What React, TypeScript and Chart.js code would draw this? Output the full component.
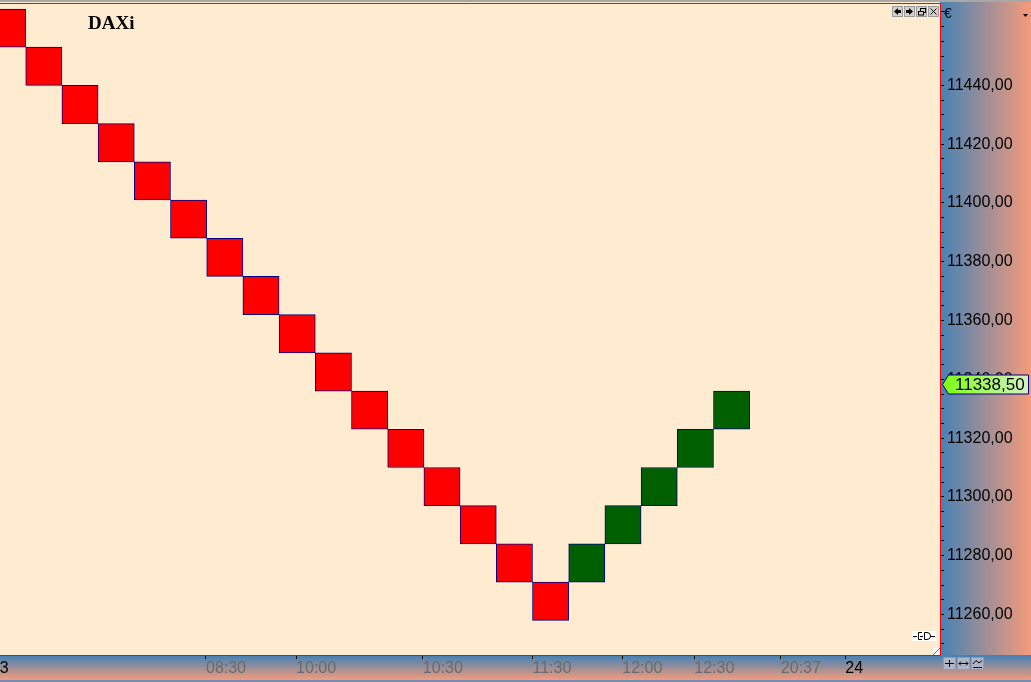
import React, { useEffect, useRef } from 'react';
import Chart from 'chart.js/auto';

// Renko boxes (13 points each)
const boxIndex = [0, 1, 2, 3, 4, 5, 6, 7, 8, 9, 10, 11, 12, 13, 14, 15, 16, 17, 18, 19, 20];
const boxOpen = [
  11466, 11453, 11440, 11427, 11414, 11401, 11388, 11375, 11362, 11349, 11336,
  11323, 11310, 11297, 11284, 11271, 11271, 11284, 11297, 11310, 11323,
];
const boxClose = [
  11453, 11440, 11427, 11414, 11401, 11388, 11375, 11362, 11349, 11336, 11323,
  11310, 11297, 11284, 11271, 11258, 11284, 11297, 11310, 11323, 11336,
];
const lastPrice = 11338.5;

// visible price range and ticks
const priceMin = 11246.2;
const priceMax = 11467.7;
const priceStep = 5;
const priceLabelStep = 20;
const priceLabelTop = 11440;

// visible box range (in box units)
const boxMin = -0.21;
const boxMax = 25.757;

// time labels along the bottom (position in box units)
const timeTickPos = [-0.46, 5.48, 7.97, 11.47, 14.5, 16.98, 18.97, 21.36, 23.14];
const timeTickLabels = ['23', '08:30', '10:00', '10:30', '11:30', '12:00', '12:30', '20:37', '24'];
const dayLabels = ['23', '24'];

const CREAM = '#FFEBD0';
const BLUE = '#4682B4';
const SALMON = '#F59B7B';
const UP = '#006000';
const DOWN = '#FF0000';
const FONT = '"Liberation Sans", Arial, sans-serif';

const fmt = (v: number) => v.toFixed(2).replace('.', ',');

const smallButton = (ctx: CanvasRenderingContext2D, x: number, y: number, w: number, h: number, bg: string) => {
  ctx.fillStyle = bg;
  ctx.fillRect(x, y, w, h);
  ctx.strokeStyle = '#9A9A9A';
  ctx.lineWidth = 1;
  ctx.strokeRect(x + 0.5, y + 0.5, w - 1, h - 1);
};

const decorPlugin = {
  id: 'decor',
  beforeDraw(chart: any) {
    const { ctx, width, height, chartArea: a } = chart;
    ctx.save();
    ctx.fillStyle = CREAM;
    ctx.fillRect(0, 0, a.right, a.bottom);

    // right price axis background
    let g = ctx.createLinearGradient(a.right, 0, width, 0);
    g.addColorStop(0, BLUE);
    g.addColorStop(1, SALMON);
    ctx.fillStyle = g;
    ctx.fillRect(a.right, 0, width - a.right, a.bottom);

    // bottom time axis background
    g = ctx.createLinearGradient(0, a.bottom + 1, 0, height - 2);
    g.addColorStop(0, BLUE);
    g.addColorStop(1, SALMON);
    ctx.fillStyle = g;
    ctx.fillRect(0, a.bottom, width, height - a.bottom);
    ctx.fillStyle = '#6E8FB2';
    ctx.fillRect(0, height - 2, width, 2);

    ctx.fillStyle = '#A8A8A8';
    ctx.fillRect(0, 0, width, 2);
    ctx.restore();
  },
  afterDraw(chart: any) {
    const { ctx, chartArea: a, scales } = chart;
    ctx.save();

    // red frame of the plot area
    ctx.strokeStyle = '#FF0000';
    ctx.lineWidth = 1;
    ctx.beginPath();
    ctx.moveTo(0, a.top - 0.5);
    ctx.lineTo(a.right + 0.5, a.top - 0.5);
    ctx.lineTo(a.right + 0.5, a.bottom + 0.5);
    ctx.lineTo(0, a.bottom + 0.5);
    ctx.stroke();

    // title
    ctx.fillStyle = '#000';
    ctx.font = 'bold 19px "Liberation Serif", "Times New Roman", serif';
    ctx.textBaseline = 'alphabetic';
    ctx.textAlign = 'left';
    ctx.fillText('DAXi', 88, 29);

    // window buttons top right
    const bx = [892, 904, 916, 928];
    bx.forEach((x) => smallButton(ctx, x, 6, 11, 11, '#D4D0C8'));
    ctx.fillStyle = '#000';
    ctx.strokeStyle = '#000';
    // left arrow
    ctx.beginPath();
    ctx.moveTo(894, 11.5); ctx.lineTo(898, 8); ctx.lineTo(898, 15); ctx.closePath(); ctx.fill();
    ctx.fillRect(898, 10, 3, 3);
    // right arrow
    ctx.beginPath();
    ctx.moveTo(913, 11.5); ctx.lineTo(909, 8); ctx.lineTo(909, 15); ctx.closePath(); ctx.fill();
    ctx.fillRect(906, 10, 3, 3);
    // restore
    ctx.strokeRect(920.5, 8.5, 5, 4);
    ctx.fillStyle = '#D4D0C8';
    ctx.fillRect(918, 11, 5, 4);
    ctx.strokeRect(918.5, 11.5, 5, 3.5);
    // close
    ctx.beginPath();
    ctx.moveTo(930.5, 8.5); ctx.lineTo(936.5, 14.5);
    ctx.moveTo(936.5, 8.5); ctx.lineTo(930.5, 14.5);
    ctx.stroke();

    // currency and dropdown
    ctx.fillStyle = '#000';
    ctx.font = `14px ${FONT}`;
    ctx.fillText('€', 944, 18);
    ctx.beginPath();
    ctx.moveTo(1023, 14); ctx.lineTo(1028, 14); ctx.lineTo(1025.5, 17); ctx.closePath(); ctx.fill();

    // plug icon and corner grip
    ctx.fillStyle = '#FFFFFF';
    ctx.fillRect(912, 631, 24, 10);
    ctx.strokeStyle = '#000';
    ctx.beginPath();
    ctx.moveTo(913, 636.5); ctx.lineTo(917, 636.5);
    ctx.moveTo(922, 632.5); ctx.lineTo(918.5, 632.5); ctx.lineTo(918.5, 639.5); ctx.lineTo(922, 639.5);
    ctx.moveTo(920, 636.5); ctx.lineTo(923, 636.5);
    ctx.moveTo(924.5, 632.5); ctx.lineTo(927, 632.5); ctx.arc(927, 636, 3.5, -Math.PI / 2, Math.PI / 2); ctx.lineTo(924.5, 639.5); ctx.closePath();
    ctx.moveTo(931, 636.5); ctx.lineTo(935, 636.5);
    ctx.stroke();
    ctx.fillStyle = '#FFFFFF';
    ctx.fillRect(933, 648, 7, 7);
    ctx.strokeStyle = '#707070';
    ctx.beginPath();
    ctx.moveTo(933, 655); ctx.lineTo(940, 648);
    ctx.stroke();

    // bottom right buttons
    [943, 957, 971].forEach((x) => smallButton(ctx, x, 657, 13, 13, '#AEB6C8'));
    ctx.strokeStyle = '#000';
    ctx.beginPath();
    ctx.moveTo(945, 663.5); ctx.lineTo(954, 663.5);
    ctx.moveTo(949.5, 660); ctx.lineTo(949.5, 667);
    ctx.moveTo(959, 663.5); ctx.lineTo(968, 663.5);
    ctx.moveTo(961, 661.5); ctx.lineTo(959, 663.5); ctx.lineTo(961, 665.5);
    ctx.moveTo(966, 661.5); ctx.lineTo(968, 663.5); ctx.lineTo(966, 665.5);
    ctx.moveTo(973, 664); ctx.lineTo(976, 660.5); ctx.lineTo(979, 663); ctx.lineTo(982, 660.5);
    ctx.moveTo(973, 667.5); ctx.lineTo(982, 667.5);
    ctx.stroke();

    // last price tag
    const yS = scales.y;
    const py = Math.round(yS.getPixelForValue(lastPrice)) + 0.5;
    const x0 = 942.5;
    const x1 = 1028.5;
    const h = 9.5;
    const tg = ctx.createLinearGradient(x0, 0, x1, 0);
    tg.addColorStop(0, '#7CFF10');
    tg.addColorStop(1, '#D4F2C4');
    ctx.fillStyle = tg;
    ctx.beginPath();
    ctx.moveTo(x0, py);
    ctx.lineTo(x0 + 6, py - h);
    ctx.lineTo(x1, py - h);
    ctx.lineTo(x1, py + h);
    ctx.lineTo(x0 + 6, py + h);
    ctx.closePath();
    ctx.fill();
    ctx.strokeStyle = '#000080';
    ctx.stroke();
    ctx.fillStyle = '#000';
    ctx.font = `17px ${FONT}`;
    ctx.textBaseline = 'middle';
    ctx.fillText(fmt(lastPrice), 955, py + 1);

    ctx.restore();
  },
};

const RenkoChart: React.FC = () => {
  const canvasRef = useRef<HTMLCanvasElement | null>(null);

  useEffect(() => {
    if (!canvasRef.current) return;
    const ctx = canvasRef.current.getContext('2d');
    if (!ctx) return;

    const chart = new Chart(ctx, {
      type: 'bar',
      data: {
        datasets: [
          {
            data: boxIndex.map((i) => ({
              x: i,
              y: [Math.min(boxOpen[i], boxClose[i]), Math.max(boxOpen[i], boxClose[i])],
            })) as any,
            backgroundColor: boxIndex.map((i) => (boxClose[i] > boxOpen[i] ? UP : DOWN)),
            borderColor: '#000080',
            borderWidth: 1,
            borderSkipped: false,
            barPercentage: 1,
            categoryPercentage: 1,
            clip: 0,
          } as any,
        ],
      },
      options: {
        animation: false,
        responsive: true,
        maintainAspectRatio: false,
        layout: { padding: { top: 4, left: 0, right: 0, bottom: 0 } },
        plugins: {
          legend: { display: false },
          tooltip: { enabled: false },
        },
        scales: {
          x: {
            type: 'linear',
            min: boxMin,
            max: boxMax,
            offset: false,
            border: { display: false },
            grid: {
              offset: false,
              drawOnChartArea: false,
              drawTicks: true,
              tickLength: 4,
              tickColor: '#000',
              tickWidth: 1,
            },
            afterBuildTicks: (scale: any) => {
              scale.ticks = timeTickPos.map((v) => ({ value: v }));
            },
            afterFit: (scale: any) => {
              scale.height = 27;
              scale.paddingLeft = 0;
              scale.paddingRight = 0;
            },
            ticks: {
              autoSkip: false,
              maxRotation: 0,
              minRotation: 0,
              align: 'start',
              padding: 0,
              font: { family: FONT, size: 16 },
              color: (c: any) => (dayLabels.includes(c.tick?.label) ? '#000' : '#6B6B6B'),
              callback: (_v: any, index: number) => timeTickLabels[index],
            },
          },
          y: {
            type: 'linear',
            position: 'right',
            min: priceMin,
            max: priceMax,
            beginAtZero: false,
            border: { display: false },
            grid: { drawOnChartArea: false, drawTicks: true, tickLength: 4, tickColor: '#000', tickWidth: 1 },
            afterFit: (scale: any) => {
              scale.width = 91;
              scale.paddingTop = 0;
              scale.paddingBottom = 0;
            },
            ticks: {
              stepSize: priceStep,
              includeBounds: false,
              autoSkip: false,
              padding: 3,
              color: '#000',
              font: { family: FONT, size: 16 },
              callback: (v: any) => {
                const n = Math.round(Number(v));
                return n % priceLabelStep === 0 && n <= priceLabelTop ? fmt(n) : '';
              },
            },
          },
        },
      } as any,
      plugins: [decorPlugin],
    });

    return () => {
      chart.destroy();
    };
  }, []);

  return (
    <div style={{ position: 'fixed', left: 0, top: 0, width: 1031, height: 682 }}>
      <canvas ref={canvasRef} />
    </div>
  );
};

export default function App() {
  return <RenkoChart />;
}
